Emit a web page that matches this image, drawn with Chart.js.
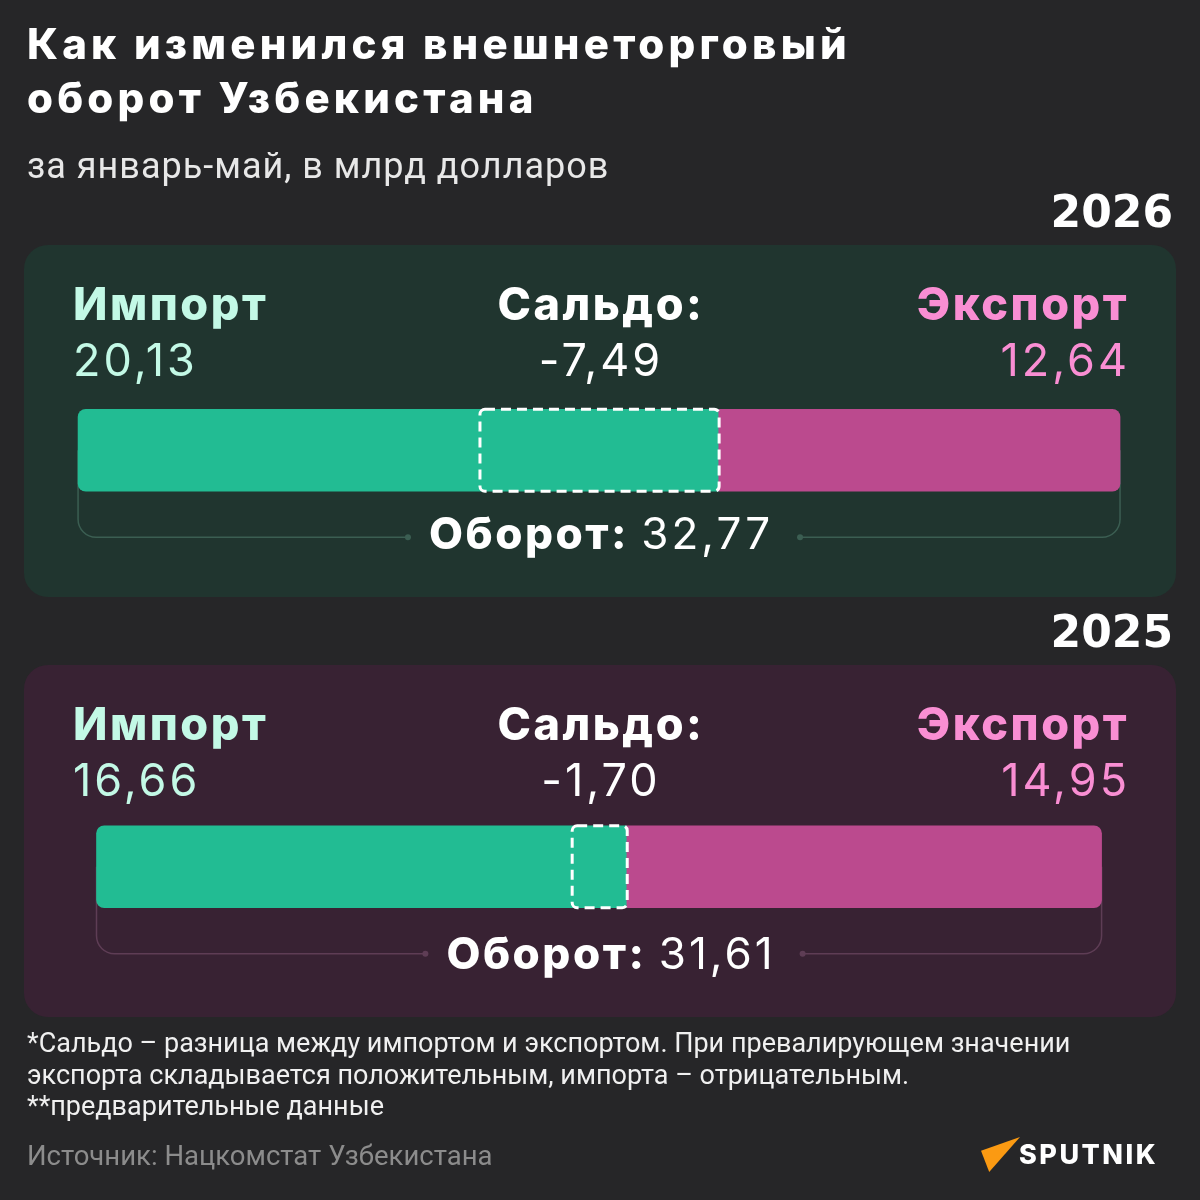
<!DOCTYPE html>
<html lang="ru">
<head>
<meta charset="utf-8">
<title>Как изменился внешнеторговый оборот Узбекистана</title>
<script src="https://cdn.jsdelivr.net/npm/chart.js@4.4.1/dist/chart.umd.min.js"></script>
<style>
    html, body { margin: 0; padding: 0; }
    body {
        width: 1200px; height: 1200px; position: relative; overflow: hidden;
        background: #262628; color: #fff; font-family: Inter, Roboto, sans-serif;
    }
    .abs { position: absolute; white-space: nowrap; line-height: 1; z-index: 2; }
    .panel { position: absolute; left: 24px; width: 1152px; height: 352px; border-radius: 24px; z-index: 0; }
    .bold { font-weight: 800; letter-spacing: 2.5px; }
    .reg { font-weight: 400; letter-spacing: 3px; }
    #title { left: 27px; top: 17px; font-size: 42px; font-weight: 800; line-height: 54px; letter-spacing: 4.2px; }
    #subtitle { left: 27px; top: 148px; font-family: Roboto, sans-serif; font-size: 36px; letter-spacing: 1px; color: #e8e8e8; }
    #note { left: 27px; top: 1028px; font-family: Roboto, sans-serif; font-size: 27px; line-height: 31.5px; color: #f0f0f0; }
    #source { left: 27px; top: 1142px; font-family: Roboto, sans-serif; font-size: 27.5px; color: #8c8c8c; }
    #logoMark { position: absolute; left: 981px; top: 1137px; width: 39px; height: 35px; background: #fb9a12;
        clip-path: polygon(0% 39%, 100% 0%, 21% 100%); z-index: 2; }
    #logoText { left: 1019px; top: 1141px; font-size: 27px; font-weight: 800; letter-spacing: 2.5px; }
    #chartCanvas { position: absolute; left: 0; top: 0; z-index: 1; }
</style>
</head>
<body>

<div class="abs" id="title">Как изменился внешнеторговый<br>оборот Узбекистана</div>
<div class="abs" id="subtitle">за январь-май, в млрд долларов</div>

<div id="panels"></div>
<canvas id="chartCanvas" width="1200" height="1200"></canvas>

<div class="abs" id="note">*Сальдо – разница между импортом и экспортом. При превалирующем значении<br>экспорта складывается положительным, импорта – отрицательным.<br>**предварительные данные</div>
<div class="abs" id="source">Источник: Нацкомстат Узбекистана</div>
<div id="logoMark"></div>
<div class="abs" id="logoText">SPUTNIK</div>

<script>
// Data, bn USD, January-May
const years = ['2026', '2025'];
const imports = [20.13, 16.66];
const exports = [12.64, 14.95];
const saldo = [-7.49, -1.70];
const turnover = [32.77, 31.61];

// Panel look, one entry per year
const panelTops = [245, 665];
const panelColors = ['#20352f', '#382233'];
const bracketColors = ['#3b5e52', '#5e3d55'];
const importColor = '#22bc93';
const exportColor = '#bb4a8e';
const importText = '#c3f9e6';
const exportText = '#f98ed3';

const fmt = v => v.toFixed(2).replace('.', ',');

function addText(parent, text, cls, style) {
    const el = document.createElement('div');
    el.className = 'abs ' + cls;
    el.textContent = text;
    Object.assign(el.style, style);
    parent.appendChild(el);
    return el;
}

// Build panels and their labels
const panels = document.getElementById('panels');
const turnoverLabels = [];
years.forEach((year, i) => {
    const top = panelTops[i];
    const p = document.createElement('div');
    p.className = 'panel';
    p.style.top = top + 'px';
    p.style.background = panelColors[i];
    panels.appendChild(p);

    addText(panels, year, '', { right: '27px', top: (top - 55) + 'px', fontFamily: '"DejaVu Sans", sans-serif',
        fontWeight: 700, fontSize: '44px' });

    const big = '45px';
    addText(panels, 'Импорт', 'bold', { left: '73px', top: (top + 36) + 'px', fontSize: big, color: importText });
    addText(panels, fmt(imports[i]), 'reg', { left: '73px', top: (top + 92) + 'px', fontSize: big, color: importText });

    addText(panels, 'Сальдо:', 'bold', { left: '601px', top: (top + 36) + 'px', fontSize: big, transform: 'translateX(-50%)' });
    addText(panels, fmt(saldo[i]), 'reg', { left: '601px', top: (top + 92) + 'px', fontSize: big, transform: 'translateX(-50%)' });

    addText(panels, 'Экспорт', 'bold', { right: '71px', top: (top + 36) + 'px', fontSize: big, color: exportText });
    addText(panels, fmt(exports[i]), 'reg', { right: '70px', top: (top + 92) + 'px', fontSize: big, color: exportText });

    const t = document.createElement('div');
    t.className = 'abs';
    t.style.left = (601 + i * 10) + 'px';
    t.style.top = (top + 266) + 'px';
    t.style.fontSize = '44px';
    t.style.transform = 'translateX(-50%)';
    t.innerHTML = '<span class="bold">Оборот:</span> <span class="reg">' + fmt(turnover[i]) + '</span>';
    panels.appendChild(t);
    turnoverLabels.push(t);
});

// Bracket under each bar, with a gap for the turnover label, plus the dashed saldo box
const bracketPlugin = {
    id: 'bracket',
    beforeDatasetsDraw(chart) {
        const ctx = chart.ctx;
        const xs = chart.scales.x;
        chart.getDatasetMeta(0).data.forEach((bar, i) => {
            const left = xs.getPixelForValue(-turnover[i] / 2);
            const right = xs.getPixelForValue(turnover[i] / 2);
            const yb = bar.y + bar.height / 2 + 46;
            const r = 18;
            const box = turnoverLabels[i].getBoundingClientRect();
            const gapL = box.left - 21;
            const gapR = box.right + 27;
            ctx.save();
            ctx.strokeStyle = bracketColors[i];
            ctx.fillStyle = bracketColors[i];
            ctx.lineWidth = 1.5;
            ctx.beginPath();
            ctx.moveTo(gapL, yb);
            ctx.arcTo(left, yb, left, bar.y, r);
            ctx.lineTo(left, bar.y);
            ctx.moveTo(gapR, yb);
            ctx.arcTo(right, yb, right, bar.y, r);
            ctx.lineTo(right, bar.y);
            ctx.stroke();
            [gapL, gapR].forEach(x => {
                ctx.beginPath();
                ctx.arc(x, yb, 3, 0, Math.PI * 2);
                ctx.fill();
            });
            ctx.restore();
        });
    },
    afterDatasetsDraw(chart) {
        const ctx = chart.ctx;
        const xs = chart.scales.x;
        chart.getDatasetMeta(0).data.forEach((bar, i) => {
            const edge = -turnover[i] / 2 + imports[i];
            const x1 = xs.getPixelForValue(Math.min(edge, edge + saldo[i]));
            const x2 = xs.getPixelForValue(Math.max(edge, edge + saldo[i]));
            const top = bar.y - bar.height / 2;
            ctx.save();
            ctx.strokeStyle = '#ffffff';
            ctx.lineWidth = 3;
            ctx.setLineDash([10, 6]);
            ctx.beginPath();
            ctx.roundRect(x1, top, x2 - x1 + 1, bar.height, 5);
            ctx.stroke();
            ctx.restore();
        });
    }
};

const ctx = document.getElementById('chartCanvas').getContext('2d');
new Chart(ctx, {
    type: 'bar',
    data: {
        labels: years,
        datasets: [
            {
                label: 'Импорт',
                data: years.map((y, i) => [-turnover[i] / 2, -turnover[i] / 2 + imports[i]]),
                backgroundColor: importColor,
                borderRadius: { topLeft: 8, bottomLeft: 8, topRight: 0, bottomRight: 0 },
                borderSkipped: false,
                grouped: false,
                barThickness: 82
            },
            {
                label: 'Экспорт',
                data: years.map((y, i) => [-turnover[i] / 2 + imports[i], turnover[i] / 2]),
                backgroundColor: exportColor,
                borderRadius: { topLeft: 0, bottomLeft: 0, topRight: 8, bottomRight: 8 },
                borderSkipped: false,
                grouped: false,
                barThickness: 82
            }
        ]
    },
    options: {
        indexAxis: 'y',
        responsive: false,
        animation: false,
        layout: { padding: { top: 242, bottom: 125, left: 0, right: 0 } },
        plugins: { legend: { display: false }, tooltip: { enabled: false } },
        scales: {
            x: { display: false, min: -18.84, max: 18.9 },
            y: { display: false }
        }
    },
    plugins: [bracketPlugin]
});
</script>
</body>
</html>
